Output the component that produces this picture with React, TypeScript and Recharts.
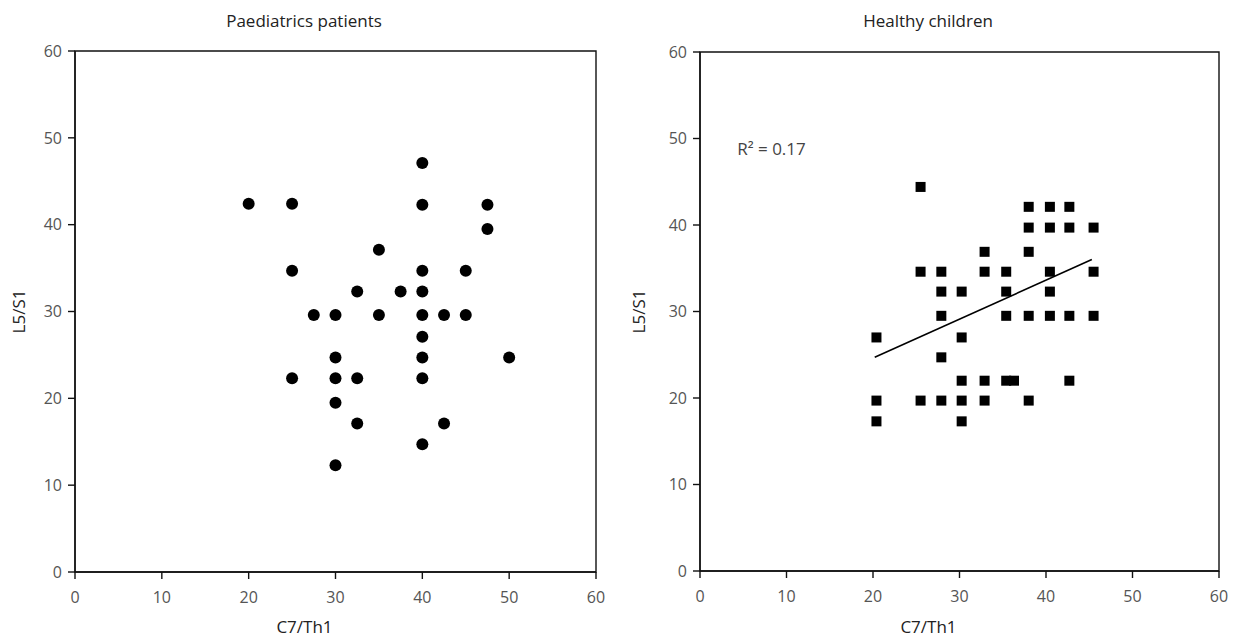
import React from 'react';
import {
  ScatterChart,
  Scatter,
  XAxis,
  YAxis,
  ReferenceArea,
  ReferenceLine,
  ReferenceDot,
  Label,
} from 'recharts';

// ---- Data ----
const axisTicks = [0, 10, 20, 30, 40, 50, 60];

const patientsC7 = [
  20, 25, 40, 40, 47.5, 47.5, 35, 25, 40, 45, 32.5, 37.5, 40, 27.5, 30, 35, 40, 42.5, 45,
  40, 30, 40, 50, 25, 30, 32.5, 40, 30, 32.5, 42.5, 40, 30,
];
const patientsL5 = [
  42.4, 42.4, 47.1, 42.3, 42.3, 39.5, 37.1, 34.7, 34.7, 34.7, 32.3, 32.3, 32.3, 29.6, 29.6,
  29.6, 29.6, 29.6, 29.6, 27.1, 24.7, 24.7, 24.7, 22.3, 22.3, 22.3, 22.3, 19.5, 17.1, 17.1,
  14.7, 12.3,
];

const healthyC7 = [
  25.5, 38, 40.45, 42.7, 38, 40.45, 42.7, 45.5, 32.9, 38, 25.5, 27.9, 32.9, 35.4, 40.45, 45.5,
  27.9, 30.25, 35.4, 40.45, 27.9, 35.4, 38, 40.45, 42.7, 45.5, 20.4, 30.25, 27.9, 30.25, 32.9,
  35.4, 36.3, 42.7, 20.4, 25.5, 27.9, 30.25, 32.9, 38, 20.4, 30.25,
];
const healthyL5 = [
  44.4, 42.1, 42.1, 42.1, 39.7, 39.7, 39.7, 39.7, 36.9, 36.9, 34.6, 34.6, 34.6, 34.6, 34.6,
  34.6, 32.3, 32.3, 32.3, 32.3, 29.5, 29.5, 29.5, 29.5, 29.5, 29.5, 27.0, 27.0, 24.7, 22.0,
  22.0, 22.0, 22.0, 22.0, 19.7, 19.7, 19.7, 19.7, 19.7, 19.7, 17.3, 17.3,
];

const trendC7 = [20.2, 45.3];
const trendL5 = [24.7, 36.0];

const rSquaredText = 'R² = 0.17';
const rSquaredPos = { x: 4.3, y: 48.1 };

const patientsData = patientsC7.map((x, i) => ({ x, y: patientsL5[i] }));
const healthyData = healthyC7.map((x, i) => ({ x, y: healthyL5[i] }));

const FONT = '"Open Sans", "Noto Sans", sans-serif';
const TICK_STYLE = { fontSize: 16, fill: '#555', fontFamily: FONT };
const AXIS_STROKE = '#111';

const CircleShape = (props: any) => <circle cx={props.cx} cy={props.cy} r={6} fill="#000" />;
const SquareShape = (props: any) => (
  <rect x={props.cx - 5} y={props.cy - 5} width={10} height={10} fill="#000" />
);

const xLabel = (shift: number) => (props: any) => {
  const vb = props.viewBox || {};
  return (
    <text
      x={vb.x + vb.width / 2 + shift}
      y={633}
      textAnchor="middle"
      style={{ fontSize: 17, fill: '#222', fontFamily: FONT }}
    >
      C7/Th1
    </text>
  );
};

const yLabel = (cxPos: number) => (props: any) => {
  const vb = props.viewBox || {};
  const cy = vb.y + vb.height / 2;
  return (
    <text
      x={cxPos}
      y={cy}
      textAnchor="middle"
      dominantBaseline="central"
      transform={`rotate(-90, ${cxPos}, ${cy})`}
      style={{ fontSize: 17, fill: '#222', fontFamily: FONT }}
    >
      L5/S1
    </text>
  );
};

const rLabel = (props: any) => {
  const vb = props.viewBox || {};
  return (
    <text
      x={vb.x}
      y={vb.y + (vb.height || 0) / 2}
      textAnchor="start"
      style={{ fontSize: 17, fill: '#444', fontFamily: FONT }}
    >
      {rSquaredText}
    </text>
  );
};

interface PanelProps {
  width: number;
  height: number;
  margin: { top: number; right: number; bottom: number; left: number };
  yAxisWidth: number;
  xAxisHeight: number;
  children?: React.ReactNode;
  labelShift: number;
}

const Panel = ({ width, height, margin, yAxisWidth, xAxisHeight, children, labelShift }: PanelProps) => (
  <ScatterChart width={width} height={height} margin={margin}>
    <XAxis
      type="number"
      dataKey="x"
      domain={[0, 60]}
      ticks={axisTicks}
      interval={0}
      height={xAxisHeight}
      tickSize={7}
      tickMargin={13}
      tick={TICK_STYLE}
      axisLine={{ stroke: AXIS_STROKE, strokeWidth: 1.4 }}
      tickLine={{ stroke: AXIS_STROKE, strokeWidth: 1.4 }}
      allowDataOverflow
    >
      <Label content={xLabel(labelShift)} />
    </XAxis>
    <YAxis
      type="number"
      dataKey="y"
      domain={[0, 60]}
      ticks={axisTicks}
      interval={0}
      width={yAxisWidth}
      tickSize={7}
      tickMargin={6}
      tick={TICK_STYLE}
      axisLine={{ stroke: AXIS_STROKE, strokeWidth: 1.4 }}
      tickLine={{ stroke: AXIS_STROKE, strokeWidth: 1.4 }}
      allowDataOverflow
    >
      <Label content={yLabel(18)} />
    </YAxis>
    <ReferenceArea x1={0} x2={60} y1={0} y2={60} fill="none" fillOpacity={0} stroke={AXIS_STROKE} strokeWidth={1.4} />
    {children}
  </ScatterChart>
);

const titleStyle: React.CSSProperties = {
  position: 'absolute',
  top: 9,
  width: 300,
  textAlign: 'center',
  fontFamily: FONT,
  fontSize: 17,
  color: '#222',
  lineHeight: '24px',
  whiteSpace: 'nowrap',
};

export default function App() {
  return (
    <div style={{ position: 'absolute', left: 0, top: 0, width: 1238, height: 639, background: '#fff' }}>
      <div style={{ position: 'absolute', left: 0, top: 0 }}>
        <Panel
          width={620}
          height={639}
          margin={{ top: 51, right: 24, bottom: 0, left: 0 }}
          yAxisWidth={75}
          xAxisHeight={67}
          labelShift={-31}
        >
          <Scatter data={patientsData} shape={CircleShape} isAnimationActive={false} />
        </Panel>
      </div>
      <div style={{ position: 'absolute', left: 620, top: 0 }}>
        <Panel
          width={618}
          height={639}
          margin={{ top: 52, right: 19, bottom: 0, left: 0 }}
          yAxisWidth={80}
          xAxisHeight={68}
          labelShift={-31}
        >
          <Scatter data={healthyData} shape={SquareShape} isAnimationActive={false} />
          <ReferenceLine
            segment={[
              { x: trendC7[0], y: trendL5[0] },
              { x: trendC7[1], y: trendL5[1] },
            ]}
            stroke="#000"
            strokeWidth={1.6}
          />
          <ReferenceDot x={rSquaredPos.x} y={rSquaredPos.y} r={0} fill="none" stroke="none">
            <Label content={rLabel} />
          </ReferenceDot>
        </Panel>
      </div>
      <div style={{ ...titleStyle, left: 304 - 150 }}>Paediatrics patients</div>
      <div style={{ ...titleStyle, left: 928 - 150 }}>Healthy children</div>
    </div>
  );
}
